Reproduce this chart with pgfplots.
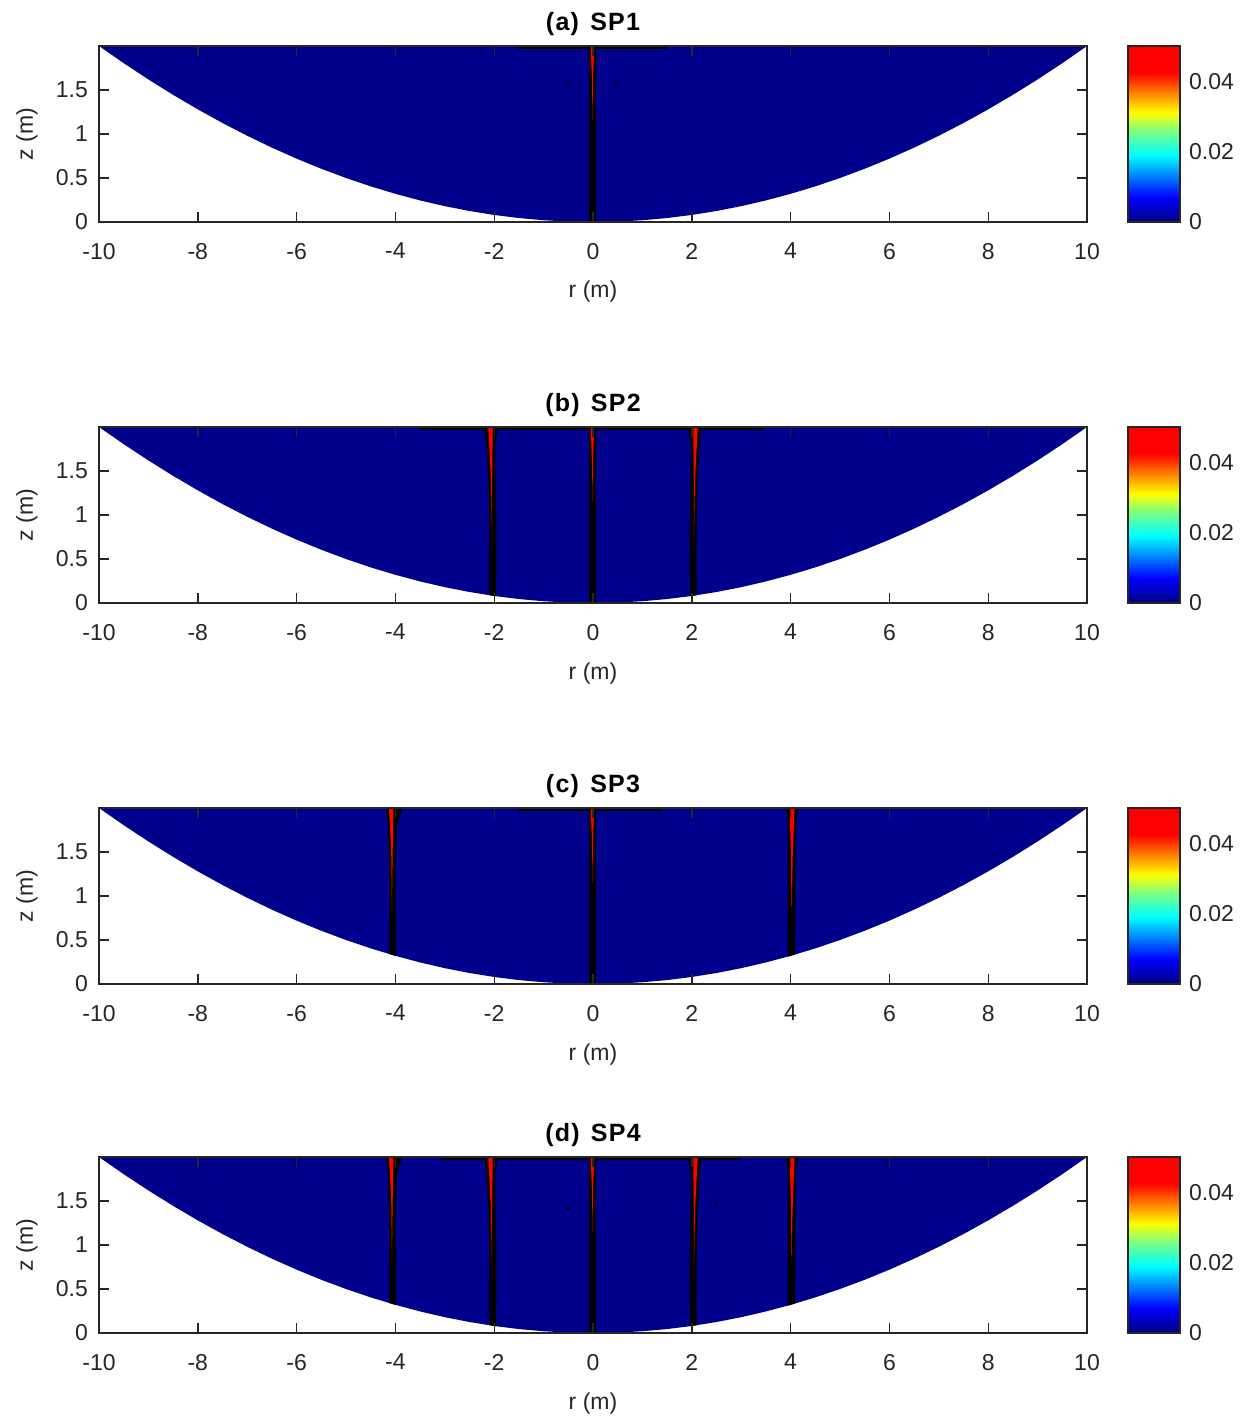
\documentclass[border=0pt]{standalone}
\usepackage{fontspec}
\setmainfont{Liberation Sans}
\usepackage{pgfplots}
\usepackage{pgfplotstable}
\pgfplotsset{compat=1.18}

\definecolor{navyfill}{rgb}{0,0,0.55}
\definecolor{axgray}{rgb}{0.15,0.15,0.15}
\newcommand{\lblfont}{\fontsize{11.5}{13.8}\selectfont}
\newcommand{\ttlfont}{\fontsize{12.5}{15}\selectfont\bfseries\addfontfeature{LetterSpace=5}}
\newcommand{\ttl}[2]{(#1)\hspace{0.45em}#2}

% bowl bottom boundary z(r) and top edge
\pgfplotstableread{
r z
-10 2
-9.5 1.805
-9 1.62
-8.5 1.445
-8 1.28
-7.5 1.125
-7 0.98
-6.5 0.845
-6 0.72
-5.5 0.605
-5 0.5
-4.5 0.405
-4 0.32
-3.5 0.245
-3 0.18
-2.5 0.125
-2 0.08
-1.5 0.045
-1 0.02
-0.5 0.005
0 0
0.5 0.005
1 0.02
1.5 0.045
2 0.08
2.5 0.125
3 0.18
3.5 0.245
4 0.32
4.5 0.405
5 0.5
5.5 0.605
6 0.72
6.5 0.845
7 0.98
7.5 1.125
8 1.28
8.5 1.445
9 1.62
9.5 1.805
10 2
}\bowl

% black bands
\pgfplotstableread{
r z
-0.09 2
-0.08 1.5
-0.08 0.0
0.06 0.0
0.06 1.5
0.07 2
}\bandC
\pgfplotstableread{
r z
-2.2 2
-2.16 1.8
-2.12 1.4
-2.1 0.9
-2.1 0.088
-1.96 0.077
-1.955 0.9
-1.97 1.4
-1.98 1.8
-1.92 2
}\bandMtwo
\pgfplotstableread{
r z
1.92 2
1.98 1.8
1.97 1.4
1.955 0.9
1.96 0.077
2.1 0.088
2.1 0.9
2.12 1.4
2.16 1.8
2.2 2
}\bandPtwo
\pgfplotstableread{
r z
-4.19 2
-4.15 1.8
-4.13 1.4
-4.12 1.0
-4.12 0.34
-3.99 0.318
-3.99 1.0
-3.99 1.4
-3.97 1.8
-3.86 2
}\bandMfour
\pgfplotstableread{
r z
3.91 2
3.94 1.8
3.94 1.4
3.94 1.0
3.94 0.31
4.09 0.335
4.1 1.0
4.1 1.4
4.11 1.8
4.15 2
}\bandPfour

% red cores
\pgfplotstableread{
r z
-0.045 2
0.025 2
-0.002 1.6
-0.01 1.15
-0.022 1.6
}\redC
\pgfplotstableread{
r z
-2.12 2
-2.03 2
-2.04 1.4
-2.04 0.6
-2.065 1.4
}\redMtwo
\pgfplotstableread{
r z
2.03 2
2.12 2
2.065 1.4
2.04 0.6
2.04 1.4
}\redPtwo
\pgfplotstableread{
r z
-4.13 2
-4.04 2
-4.055 1.5
-4.07 0.8
-4.085 1.5
}\redMfour
\pgfplotstableread{
r z
3.98 2
4.08 2
4.045 1.5
4.02 0.8
4.005 1.5
}\redPfour

\pgfplotsset{
  panel/.style={
    width=494pt, height=88pt, scale only axis,
    xmin=-10, xmax=10, ymin=0, ymax=2,
    xtick={-10,-8,-6,-4,-2,0,2,4,6,8,10},
    ytick={0,0.5,1,1.5},
    tick align=inside, tick pos=both,
    major tick length=5pt,
    axis line style={axgray, line width=0.7pt},
    every tick/.style={axgray, line width=0.7pt},
    axis on top,
    /pgf/number format/assume math mode=true,
    every tick label/.append style={font=\lblfont, text=axgray},
    xticklabel style={yshift=-7pt},
    yticklabel style={xshift=-2pt},
    xlabel={r (m)}, ylabel={z (m)},
    every axis label/.append style={font=\lblfont, text=axgray},
    xlabel style={at={(axis description cs:0.5,-0.398)}, anchor=center},
    ylabel style={at={(axis description cs:-0.0729,0.5)}, anchor=center},
    every axis title shift=0pt,
    title style={at={(axis description cs:0.5,1.125)}, anchor=center, font=\ttlfont, text=black},
    colorbar,
    colorbar/width=26pt,
    colormap={myjet}{rgb(0pt)=(0,0,0.5); rgb(14pt)=(0,0,1); rgb(38pt)=(0,1,1); rgb(52pt)=(0.5,1,0.5); rgb(62pt)=(1,1,0); rgb(85pt)=(1,0,0); rgb(100pt)=(1,0,0)},
    point meta min=0, point meta max=0.05,
    colorbar style={
      at={(parent axis.north east)}, anchor=north west, xshift=12pt,
      ytick={0,0.02,0.04},
      scaled y ticks=false,
      major tick length=0pt,
      axis line style={axgray, line width=0.6pt},
      yticklabel style={/pgf/number format/fixed, /pgf/number format/precision=2,
        /pgf/number format/assume math mode=true, font=\lblfont, text=axgray, xshift=1pt},
    },
  },
  bowlfill/.style={fill=navyfill, draw=none, forget plot},
  band/.style={fill=black, draw=none, forget plot},
  redcore/.style={fill=red, draw=none, forget plot},
  topseg/.style={black, line width=1.2pt, forget plot},
  dots/.style={only marks, mark=*, mark size=0.8pt, black, forget plot},
}

\begin{document}
\begin{tikzpicture}
\path[use as bounding box] (-49.5pt,23pt) rectangle (574.5pt,-688pt);

% (a)
\begin{axis}[panel, at={(0pt,0pt)}, anchor=north west, title={\ttl{a}{SP1}}]
\addplot[bowlfill] table {\bowl};
\addplot[topseg] coordinates {(-1.52,1.985) (1.5,1.985)};
\addplot[band] table {\bandC};
\addplot[redcore] table {\redC};
\addplot[dots] coordinates {(-0.53,1.58) (0.48,1.58)};
\end{axis}

% (b)
\begin{axis}[panel, at={(0pt,-190.5pt)}, anchor=north west, title={\ttl{b}{SP2}}]
\addplot[bowlfill] table {\bowl};
\addplot[topseg] coordinates {(-3.5,1.985) (3.44,1.985)};
\addplot[band] table {\bandMtwo};
\addplot[band] table {\bandC};
\addplot[band] table {\bandPtwo};
\addplot[redcore] table {\redMtwo};
\addplot[redcore] table {\redC};
\addplot[redcore] table {\redPtwo};
\end{axis}

% (c)
\begin{axis}[panel, at={(0pt,-381pt)}, anchor=north west, title={\ttl{c}{SP3}}]
\addplot[bowlfill] table {\bowl};
\addplot[topseg] coordinates {(-1.5,1.985) (1.4,1.985)};
\addplot[band] table {\bandMfour};
\addplot[band] table {\bandC};
\addplot[band] table {\bandPfour};
\addplot[redcore] table {\redMfour};
\addplot[redcore] table {\redC};
\addplot[redcore] table {\redPfour};
\end{axis}

% (d)
\begin{axis}[panel, at={(0pt,-555.5pt)}, anchor=north west, title={\ttl{d}{SP4}}]
\addplot[bowlfill] table {\bowl};
\addplot[topseg] coordinates {(-3.1,1.985) (3.0,1.985)};
\addplot[band] table {\bandMfour};
\addplot[band] table {\bandMtwo};
\addplot[band] table {\bandC};
\addplot[band] table {\bandPtwo};
\addplot[band] table {\bandPfour};
\addplot[redcore] table {\redMfour};
\addplot[redcore] table {\redMtwo};
\addplot[redcore] table {\redC};
\addplot[redcore] table {\redPtwo};
\addplot[redcore] table {\redPfour};
\addplot[dots] coordinates {(-0.51,1.41) (2.49,1.47)};
\end{axis}
\end{tikzpicture}
\end{document}
